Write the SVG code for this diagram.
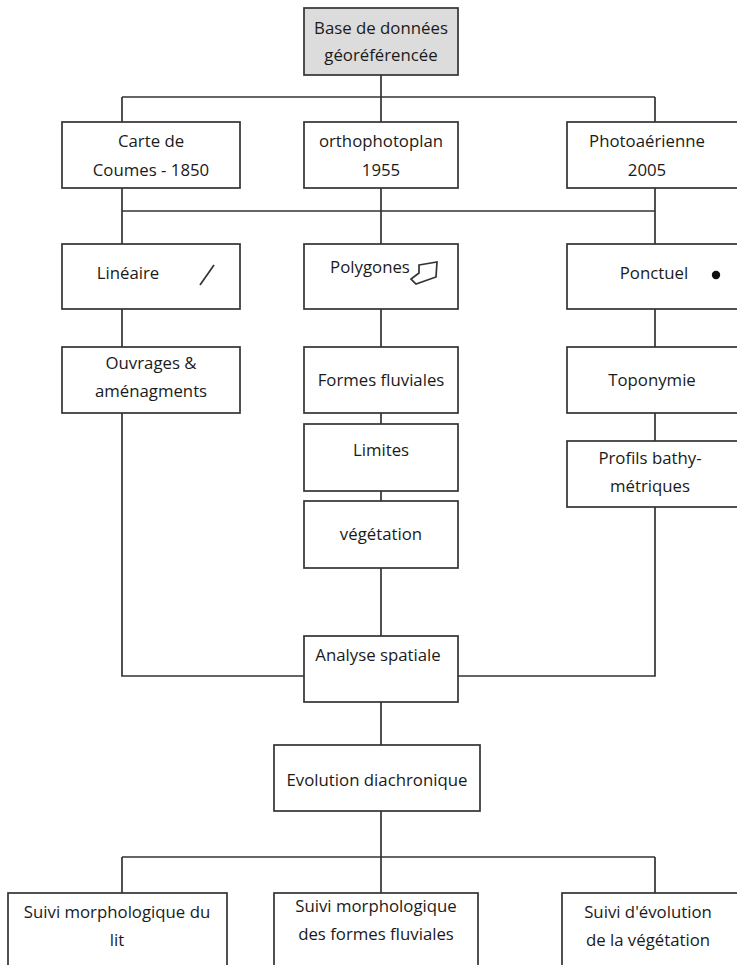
<svg xmlns="http://www.w3.org/2000/svg" width="737" height="965" viewBox="0 0 737 965">
<style>
.b{fill:#fff;stroke:#333;stroke-width:1.7}
.g{fill:#dcdcdc;stroke:#333;stroke-width:1.7}
.c{fill:none;stroke:#333;stroke-width:1.7}
text{font-family:"Open Sans","Noto Sans",sans-serif;font-size:16.8px;fill:#1a1a1a;text-anchor:middle}
</style>
<rect width="737" height="965" fill="#fff"/>
<g id="connectors">
<path class="c" d="M381 75V97M122 97H655M122 97V122M381 97V122M655 97V122"/>
<path class="c" d="M122 188V244M381 188V244M655 188V244M122 211H655"/>
<path class="c" d="M122 309V347M381 309V347M655 309V347"/>
<path class="c" d="M381 413V424M381 491V501M655 413V441"/>
<path class="c" d="M122 413V676H304M655 507V676H458M381 568V636"/>
<path class="c" d="M381 702V745M381 811V857M122 857H655M122 857V893M381 857V893M655 857V893"/>
</g>
<g id="base"><rect class="g" x="304" y="8" width="154" height="67"/><text x="381" y="34">Base de données</text><text x="381" y="61">géoréférencée</text></g>
<g id="carte"><rect class="b" x="62" y="122" width="178" height="66"/><text x="151" y="147">Carte de</text><text x="151" y="176">Coumes - 1850</text></g>
<g id="ortho"><rect class="b" x="304" y="122" width="154" height="66"/><text x="381" y="147">orthophotoplan</text><text x="381" y="176">1955</text></g>
<g id="photo"><rect class="b" x="567" y="122" width="190" height="66"/><text x="647" y="147">Photoaérienne</text><text x="647" y="176">2005</text></g>
<g id="lineaire"><rect class="b" x="62" y="244" width="178" height="65"/><text x="128" y="279">Linéaire</text><path class="c" d="M200 285L214 265"/></g>
<g id="polygones"><rect class="b" x="304" y="244" width="154" height="65"/><text x="370" y="273">Polygones</text><path class="c" d="M419 265L437 262L436 277L416 284L411 279L419 273Z"/></g>
<g id="ponctuel"><rect class="b" x="567" y="244" width="190" height="65"/><text x="654" y="279">Ponctuel</text><circle cx="716" cy="275" r="4.2" fill="#111"/></g>
<g id="ouvrages"><rect class="b" x="62" y="347" width="178" height="66"/><text x="151" y="369">Ouvrages &amp;</text><text x="151" y="397">aménagments</text></g>
<g id="formes"><rect class="b" x="304" y="347" width="154" height="66"/><text x="381" y="386">Formes fluviales</text></g>
<g id="toponymie"><rect class="b" x="567" y="347" width="190" height="66"/><text x="652" y="386">Toponymie</text></g>
<g id="limites"><rect class="b" x="304" y="424" width="154" height="67"/><text x="381" y="456">Limites</text></g>
<g id="profils"><rect class="b" x="567" y="441" width="190" height="66"/><text x="650" y="464">Profils bathy-</text><text x="650" y="492">métriques</text></g>
<g id="vegetation"><rect class="b" x="304" y="501" width="154" height="67"/><text x="381" y="540">végétation</text></g>
<g id="analyse"><rect class="b" x="304" y="636" width="154" height="66"/><text x="378" y="661">Analyse spatiale</text></g>
<g id="evolution"><rect class="b" x="274" y="745" width="206" height="66"/><text x="377" y="786">Evolution diachronique</text></g>
<g id="suivi-lit"><rect class="b" x="8" y="893" width="219" height="90"/><text x="117" y="918">Suivi morphologique du</text><text x="117" y="946">lit</text></g>
<g id="suivi-formes"><rect class="b" x="274" y="893" width="204" height="90"/><text x="376" y="912">Suivi morphologique</text><text x="376" y="940">des formes fluviales</text></g>
<g id="suivi-veg"><rect class="b" x="562" y="893" width="195" height="90"/><text x="648" y="918">Suivi d'évolution</text><text x="648" y="946">de la végétation</text></g>
</svg>
